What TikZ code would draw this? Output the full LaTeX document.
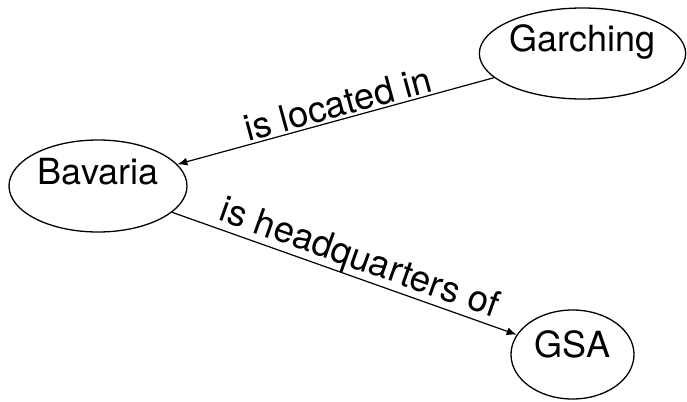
\documentclass[tikz,border=0pt]{standalone}
\usepackage{fontspec}
\setmainfont{TeX Gyre Heros}
\usetikzlibrary{shapes.geometric,arrows.meta}
\begin{document}
\begin{tikzpicture}[x=1pt,y=-1pt,
  ent/.style={draw, ellipse, line width=1.3pt, inner sep=0pt, text height=0pt, text depth=3pt, font=\fontsize{36}{40}\selectfont},
  rel/.style={line width=1.2pt, -{Latex[length=10pt,width=8pt]}},
  lab/.style={sloped, anchor=base, inner sep=0pt, font=\fontsize{36.5}{40}\selectfont}]
\useasboundingbox (0,0) rectangle (687,401);
\node[ent, minimum width=205pt, minimum height=91pt] (G) at (582.5,53.5) {Garching};
\node[ent, minimum width=178pt, minimum height=92pt] (B) at (98,186) {Bavaria};
\node[ent, minimum width=123pt, minimum height=89pt] (S) at (572.5,354.5) {\raisebox{-4pt}{GSA}};
\draw[rel] (G) -- (B) node[lab, pos=0.48, yshift=3pt] {is located in};
\draw[rel] (B) -- (S) node[lab, pos=0.525, yshift=8pt] {is headquarters of};
\end{tikzpicture}
\end{document}
